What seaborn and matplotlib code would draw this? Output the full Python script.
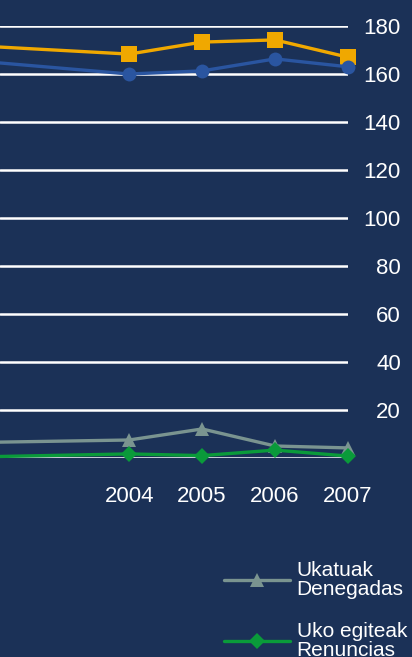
import pandas as pd
import matplotlib.pyplot as plt
import seaborn as sns
from matplotlib.lines import Line2D

years = [2002, 2004, 2005, 2006, 2007]
orange_vals = [171.6, 168.3, 173.3, 174.2, 167.0]
blue_vals = [165.2, 160.0, 161.3, 166.3, 163.0]
ukatuak_vals = [6.5, 7.5, 12.1, 5.0, 4.2]
uko_vals = [0.5, 1.7, 1.0, 3.3, 0.8]

y_ticks = [0, 20, 40, 60, 80, 100, 120, 140, 160, 180]
x_ticks = [2004, 2005, 2006, 2007]

BG = '#1b3157'

sns.set_style('dark', {'axes.facecolor': BG, 'figure.facecolor': BG})
plt.rcParams['font.family'] = ['Liberation Sans', 'DejaVu Sans']

fig = plt.figure(figsize=(4.12, 6.57), dpi=100)
ax = fig.add_axes([0, (657 - 458) / 657, 348 / 412, 432 / 657])
ax.set_facecolor(BG)

series = [
    (orange_vals, '#f0a800', 's', 11),
    (blue_vals, '#2a55a0', 'o', 10),
    (ukatuak_vals, '#7a9490', '^', 10),
    (uko_vals, '#0a9a3a', 'D', 8),
]
for vals, color, marker, ms in series:
    df = pd.DataFrame({'year': years, 'value': vals})
    sns.lineplot(data=df, x='year', y='value', ax=ax, color=color, marker=marker,
                 markersize=ms, markeredgewidth=0, linewidth=2.4, clip_on=False, zorder=3)

ax.set_xlim(2002.23, 2007)
ax.set_ylim(0, 180)
ax.set_yticks(y_ticks)
ax.set_yticklabels([''] + [str(v) for v in y_ticks[1:]])
ax.set_xticks(x_ticks)
ax.set_xticklabels([str(v) for v in x_ticks])
ax.yaxis.tick_right()
ax.grid(axis='y', color='white', linewidth=1.8)
ax.grid(axis='x', visible=False)
ax.set_axisbelow(True)
for s in ax.spines.values():
    s.set_visible(False)
ax.tick_params(axis='y', length=0, pad=38, labelsize=16, labelcolor='white')
ax.tick_params(axis='x', length=0, pad=20, labelsize=16, labelcolor='white')
for lbl in ax.get_yticklabels():
    lbl.set_ha('right')
ax.set_xlabel('')
ax.set_ylabel('')

handles = [
    Line2D([], [], color='#7a9490', marker='^', markersize=10, markeredgewidth=0, linewidth=2.4),
    Line2D([], [], color='#0a9a3a', marker='D', markersize=8, markeredgewidth=0, linewidth=2.4),
]
labels = ['Ukatuak\nDenegadas', 'Uko egiteak\nRenuncias']
leg = fig.legend(handles, labels, loc='upper left', bbox_to_anchor=(205 / 412, 1 - 542 / 657),
                 frameon=False, fontsize=15, handlelength=3.2, handletextpad=0.3,
                 labelspacing=1.1, labelcolor='white')
for t in leg.get_texts():
    t.set_linespacing(1.0)

fig.savefig('out.png', dpi=100, facecolor=BG)
